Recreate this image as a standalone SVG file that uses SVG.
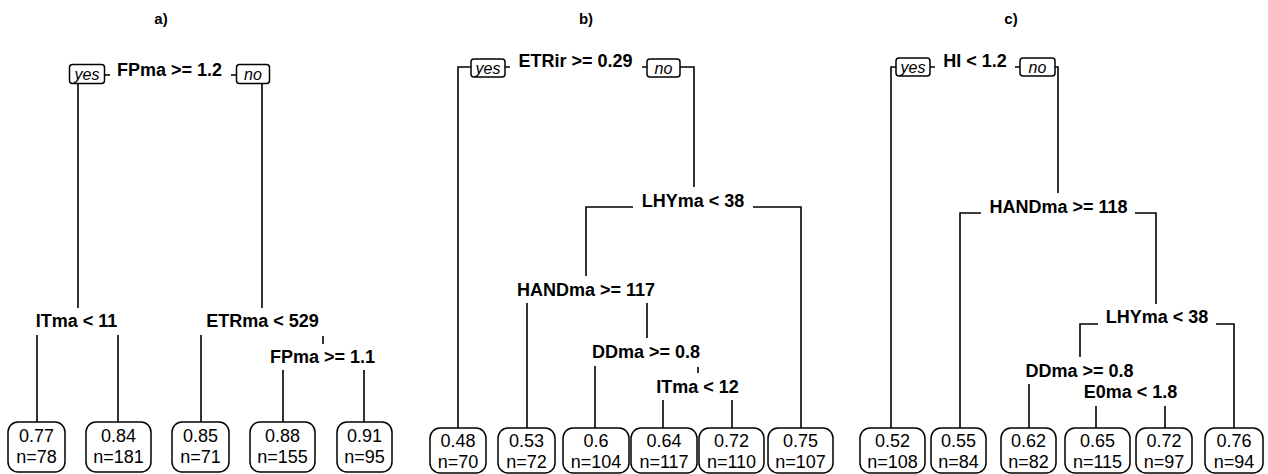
<svg xmlns="http://www.w3.org/2000/svg" width="1268" height="474" viewBox="0 0 1268 474">
<style>
.t{font-family:"Liberation Sans",Arial,sans-serif;font-weight:bold;font-size:18px;text-anchor:middle;fill:#000}
.ti{font-family:"Liberation Sans",Arial,sans-serif;font-weight:bold;font-size:15px;text-anchor:middle;fill:#000}
.yn{font-family:"Liberation Sans",Arial,sans-serif;font-style:italic;font-size:16px;text-anchor:middle;fill:#000}
.lf{font-family:"Liberation Sans",Arial,sans-serif;font-size:18px;text-anchor:middle;fill:#000}
.bx{fill:#fff;stroke:#000;stroke-width:1.5}
.ln{fill:none;stroke:#000;stroke-width:1.6}
</style>
<rect width="1268" height="474" fill="#fff"/>
<g id="titles">
<text class="ti" x="161" y="24">a)</text>
<text class="ti" x="586" y="24">b)</text>
<text class="ti" x="1011" y="24">c)</text>
</g>
<g id="connectors" class="ln">
<path d="M104.5 75H110M231 75H236.5"/>
<path d="M78 84V308M262 84V308"/>
<path d="M37 335V422M118 335V422"/>
<path d="M201 335V422M323 336V344"/>
<path d="M283 370V422M364 370V422"/>
<path d="M471 67H458V428M505 67H510M642 67H647M680 67H694V187"/>
<path d="M633 207H586V276M753 207H801V428"/>
<path d="M527 303V428M647 303V338"/>
<path d="M595 366V428M698 367V373"/>
<path d="M663 400V428M732 400V428"/>
<path d="M896 67H891V428M930 67H935M1015 67H1020M1055 67H1058V193"/>
<path d="M981 213H960V428M1135 213H1156V304"/>
<path d="M1098 324H1080V357M1216 324H1234V428"/>
<path d="M1029 384V428"/>
<path d="M1096 406V428M1165 406V428"/>
</g>
<g id="a-root"><rect class="bx" x="69.5" y="64.5" width="35" height="19" rx="3"/><text class="yn" x="87" y="79.5">yes</text><text class="t" x="169.5" y="76">FPma &gt;= 1.2</text><rect class="bx" x="236.5" y="64.5" width="33" height="19" rx="3"/><text class="yn" x="253" y="79.5">no</text></g>
<g id="a-itma"><text class="t" x="76.5" y="327">ITma &lt; 11</text></g>
<g id="a-etrma"><text class="t" x="262.5" y="327">ETRma &lt; 529</text></g>
<g id="a-fpma2"><text class="t" x="322.5" y="363">FPma &gt;= 1.1</text></g>
<g id="a-l1"><rect class="bx" x="8" y="422" width="57" height="50" rx="10"/><text class="lf" x="36.5" y="442">0.77</text><text class="lf" x="36.5" y="463">n=78</text></g>
<g id="a-l2"><rect class="bx" x="86" y="422" width="65" height="50" rx="10"/><text class="lf" x="118.5" y="442">0.84</text><text class="lf" x="118.5" y="463">n=181</text></g>
<g id="a-l3"><rect class="bx" x="172" y="422" width="57" height="50" rx="10"/><text class="lf" x="200.5" y="442">0.85</text><text class="lf" x="200.5" y="463">n=71</text></g>
<g id="a-l4"><rect class="bx" x="250" y="422" width="65" height="50" rx="10"/><text class="lf" x="282.5" y="442">0.88</text><text class="lf" x="282.5" y="463">n=155</text></g>
<g id="a-l5"><rect class="bx" x="337" y="422" width="55" height="50" rx="10"/><text class="lf" x="364.5" y="442">0.91</text><text class="lf" x="364.5" y="463">n=95</text></g>

<g id="b-root"><rect class="bx" x="471" y="59" width="34" height="18" rx="3"/><text class="yn" x="488" y="73.5">yes</text><text class="t" x="575.5" y="67">ETRir &gt;= 0.29</text><rect class="bx" x="647" y="59" width="33" height="18" rx="3"/><text class="yn" x="663.5" y="73.5">no</text></g>
<g id="b-lhy"><text class="t" x="693" y="207">LHYma &lt; 38</text></g>
<g id="b-hand"><text class="t" x="586" y="296">HANDma &gt;= 117</text></g>
<g id="b-dd"><text class="t" x="646" y="358">DDma &gt;= 0.8</text></g>
<g id="b-it"><text class="t" x="697.5" y="393">ITma &lt; 12</text></g>
<g id="b-l1"><rect class="bx" x="430" y="428" width="56" height="45" rx="10"/><text class="lf" x="458" y="447">0.48</text><text class="lf" x="458" y="468">n=70</text></g>
<g id="b-l2"><rect class="bx" x="498" y="428" width="57" height="45" rx="10"/><text class="lf" x="526.5" y="447">0.53</text><text class="lf" x="526.5" y="468">n=72</text></g>
<g id="b-l3"><rect class="bx" x="563" y="428" width="66" height="45" rx="10"/><text class="lf" x="596" y="447">0.6</text><text class="lf" x="596" y="468">n=104</text></g>
<g id="b-l4"><rect class="bx" x="631" y="428" width="66" height="45" rx="10"/><text class="lf" x="664" y="447">0.64</text><text class="lf" x="664" y="468">n=117</text></g>
<g id="b-l5"><rect class="bx" x="699" y="428" width="65" height="45" rx="10"/><text class="lf" x="731.5" y="447">0.72</text><text class="lf" x="731.5" y="468">n=110</text></g>
<g id="b-l6"><rect class="bx" x="768" y="428" width="65" height="45" rx="10"/><text class="lf" x="800.5" y="447">0.75</text><text class="lf" x="800.5" y="468">n=107</text></g>

<g id="c-root"><rect class="bx" x="896" y="58" width="34" height="18" rx="3"/><text class="yn" x="913" y="72.5">yes</text><text class="t" x="975" y="67">HI &lt; 1.2</text><rect class="bx" x="1020" y="58" width="35" height="18" rx="3"/><text class="yn" x="1037.5" y="72.5">no</text></g>
<g id="c-hand"><text class="t" x="1058.5" y="213">HANDma &gt;= 118</text></g>
<g id="c-lhy"><text class="t" x="1157" y="323">LHYma &lt; 38</text></g>
<g id="c-dd"><text class="t" x="1079.5" y="377">DDma &gt;= 0.8</text></g>
<g id="c-e0"><text class="t" x="1130.5" y="398">E0ma &lt; 1.8</text></g>
<g id="c-l1"><rect class="bx" x="860" y="428" width="65" height="45" rx="10"/><text class="lf" x="892.5" y="447">0.52</text><text class="lf" x="892.5" y="468">n=108</text></g>
<g id="c-l2"><rect class="bx" x="931" y="428" width="55" height="45" rx="10"/><text class="lf" x="958.5" y="447">0.55</text><text class="lf" x="958.5" y="468">n=84</text></g>
<g id="c-l3"><rect class="bx" x="1001" y="428" width="55" height="45" rx="10"/><text class="lf" x="1028.5" y="447">0.62</text><text class="lf" x="1028.5" y="468">n=82</text></g>
<g id="c-l4"><rect class="bx" x="1065" y="428" width="65" height="45" rx="10"/><text class="lf" x="1097.5" y="447">0.65</text><text class="lf" x="1097.5" y="468">n=115</text></g>
<g id="c-l5"><rect class="bx" x="1136" y="428" width="56" height="45" rx="10"/><text class="lf" x="1164" y="447">0.72</text><text class="lf" x="1164" y="468">n=97</text></g>
<g id="c-l6"><rect class="bx" x="1205" y="428" width="58" height="45" rx="10"/><text class="lf" x="1234" y="447">0.76</text><text class="lf" x="1234" y="468">n=94</text></g>
</svg>
